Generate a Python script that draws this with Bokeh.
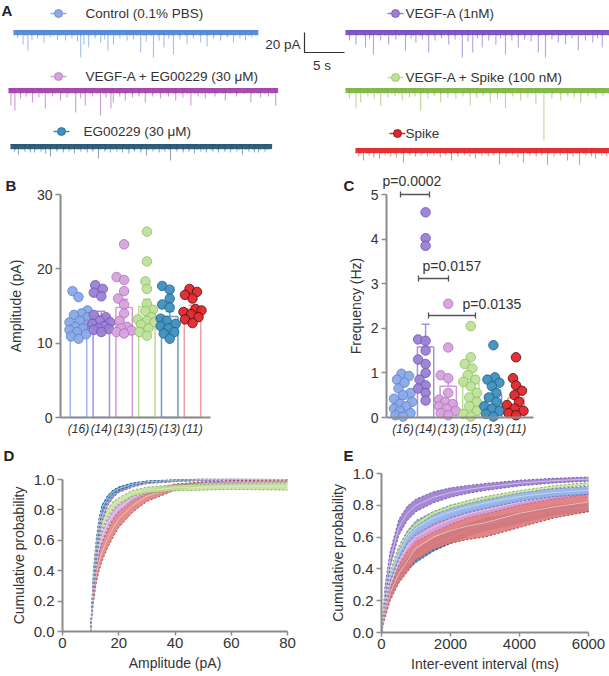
import numpy as np
from bokeh.plotting import figure
from bokeh.layouts import column, row
from bokeh.models import Range1d, FixedTicker, NumeralTickFormatter
from bokeh.core.properties import value
from bokeh.embed import file_html
from bokeh.resources import INLINE

FONT = "Liberation Sans"
TXT = "#333333"
AXC = "#8c8c8c"

# ---------------- data ----------------
GROUPS = ["Control (0.1% PBS)", "VEGF-A (1nM)", "VEGF-A + EG00229 (30 μM)",
          "VEGF-A + Spike (100 nM)", "EG00229 (30 μM)", "Spike"]
N_LABELS = ["(16)", "(14)", "(13)", "(15)", "(13)", "(11)"]

# Panel A traces: recording length (s) and events (time s, amplitude pA)
TRACE_DUR = [30.6, 33.0, 33.7, 33.0, 32.7, 31.8]
EV_CONTROL = [(0.5, 6), (1.2, 12), (1.8, 18), (2.3, 8), (3.0, 6), (3.8, 10), (4.6, 5), (5.5, 7),
              (6.5, 8), (7.3, 6), (8.0, 9), (8.4, 25), (8.8, 12), (9.4, 15), (10.2, 6), (10.9, 10),
              (11.4, 7), (11.8, 18), (12.5, 12), (13.3, 6), (14.2, 8), (15.0, 7), (15.9, 20),
              (16.6, 9), (17.5, 25), (18.2, 8), (18.8, 15), (19.4, 6), (20.0, 22), (20.8, 7),
              (21.7, 12), (22.5, 6), (23.4, 10), (24.2, 14), (25.0, 6), (25.9, 8), (26.7, 5),
              (27.5, 10), (28.3, 6), (29.0, 8), (29.8, 5)]
EV_VEGF = [(0.5, 8), (1.3, 12), (2.5, 15), (3.0, 6), (3.5, 22), (4.4, 8), (5.4, 12), (6.3, 7),
           (7.5, 18), (8.2, 6), (8.8, 10), (9.6, 7), (10.4, 20), (11.2, 8), (12.0, 6), (12.9, 12),
           (13.7, 7), (14.6, 25), (15.3, 9), (15.9, 20), (16.5, 6), (17.1, 15), (17.9, 8),
           (18.8, 12), (19.4, 6), (20.0, 22), (20.8, 8), (21.6, 15), (22.4, 7), (23.2, 9),
           (24.1, 20), (25.0, 25), (25.8, 7), (26.6, 10), (27.5, 12), (28.3, 6), (29.1, 18),
           (30.0, 8), (30.9, 10), (31.5, 6), (32.1, 15)]
EV_VEGF_EG = [(0.3, 15), (0.8, 20), (1.5, 8), (2.2, 6), (3.0, 12), (3.8, 7), (4.6, 18), (5.5, 6),
              (6.5, 10), (7.3, 7), (8.4, 22), (9.0, 8), (9.6, 15), (10.5, 6), (11.5, 25), (12.2, 7),
              (12.8, 18), (13.1, 12), (13.9, 6), (14.6, 10), (15.5, 7), (16.3, 6), (17.1, 12),
              (18.0, 6), (19.0, 8), (20.0, 6), (20.9, 10), (21.8, 7), (22.8, 15), (23.7, 6),
              (24.6, 8), (25.8, 6), (27.1, 10), (28.5, 6), (30.3, 12), (31.5, 7), (32.5, 6),
              (33.4, 15)]
EV_VEGF_SPIKE = [(0.5, 8), (1.3, 18), (1.9, 12), (2.8, 6), (3.6, 8), (4.4, 15), (5.3, 7), (6.2, 6),
                 (7.1, 10), (8.0, 7), (8.7, 6), (9.4, 20), (10.3, 8), (11.1, 6), (11.9, 12),
                 (12.8, 7), (13.8, 8), (14.7, 6), (15.6, 15), (16.4, 7), (17.2, 6), (18.1, 12),
                 (19.0, 8), (20.0, 18), (20.9, 6), (21.9, 10), (22.8, 7), (23.8, 14), (24.8, 50),
                 (25.8, 8), (26.9, 10), (27.8, 6), (28.6, 7), (29.4, 12), (30.3, 6), (31.3, 8),
                 (32.2, 6)]
EV_EG = [(0.5, 5), (1.0, 8), (1.8, 5), (2.5, 6), (3.0, 6), (3.8, 5), (4.4, 7), (5.0, 10), (5.8, 5),
         (6.6, 6), (7.3, 5), (8.0, 7), (8.8, 5), (9.6, 6), (10.3, 5), (11.0, 12), (11.8, 5),
         (12.5, 6), (13.3, 5), (14.0, 6), (14.8, 7), (15.5, 5), (16.3, 6), (17.0, 9), (17.8, 5),
         (18.6, 6), (19.3, 5), (20.0, 14), (20.8, 5), (21.6, 6), (22.3, 5), (23.0, 7), (23.8, 5),
         (24.5, 6), (25.3, 5), (26.0, 6), (26.8, 5), (27.5, 6), (28.3, 5), (29.0, 8), (29.8, 5),
         (30.5, 6), (31.0, 6), (31.8, 5)]
EV_SPIKE = [(0.4, 6), (1.0, 10), (1.7, 5), (2.3, 7), (3.0, 8), (3.7, 5), (4.4, 6), (5.1, 7),
            (6.0, 12), (6.8, 5), (7.5, 6), (8.2, 5), (9.0, 6), (9.8, 5), (10.6, 7), (11.3, 5),
            (12.0, 10), (12.8, 6), (13.6, 5), (14.3, 6), (15.0, 8), (15.8, 5), (16.6, 6), (17.3, 5),
            (18.0, 14), (18.8, 6), (19.6, 5), (20.3, 7), (21.0, 12), (21.8, 5), (22.6, 6), (23.3, 5),
            (24.0, 15), (24.8, 6), (25.6, 5), (26.5, 10), (27.2, 6), (28.0, 18), (28.8, 5),
            (29.5, 6), (30.0, 8), (30.8, 5), (31.4, 6)]
EVENTS = [EV_CONTROL, EV_VEGF, EV_VEGF_EG, EV_VEGF_SPIKE, EV_EG, EV_SPIKE]
SCALE_PA = 20
SCALE_S = 5

# Panel B: amplitude (pA)
AMP = [
    [17.0, 16.2, 14.4, 14.0, 13.8, 13.5, 13.0, 12.8, 12.5, 12.2, 12.0, 11.8, 11.5, 11.2, 10.9, 10.6],
    [17.8, 17.3, 16.8, 16.3, 13.8, 13.5, 13.0, 12.8, 12.6, 12.3, 12.0, 11.9, 11.8, 11.5],
    [23.3, 18.9, 18.5, 17.0, 16.0, 15.2, 14.0, 13.0, 12.2, 12.0, 11.7, 11.5, 11.3],
    [25.0, 21.0, 18.3, 17.3, 15.3, 14.5, 14.3, 13.5, 13.2, 13.0, 12.8, 12.5, 12.0, 11.5, 11.0],
    [17.7, 17.2, 16.0, 15.2, 14.8, 13.3, 13.0, 12.6, 12.3, 12.0, 11.5, 11.3, 10.6],
    [17.3, 16.9, 16.5, 16.0, 14.6, 14.4, 14.2, 13.9, 13.5, 13.2, 12.7],
]
AMP_MEAN = [12.9, 13.7, 14.8, 14.9, 13.6, 14.6]
AMP_SEM = [0.45, 0.6, 1.1, 1.0, 0.65, 0.5]

# Panel C: frequency (Hz)
FREQ = [
    [0.98, 0.93, 0.85, 0.78, 0.65, 0.55, 0.5, 0.42, 0.35, 0.3, 0.25, 0.2, 0.15, 0.1, 0.05, 0.02],
    [4.6, 4.02, 3.85, 1.75, 1.72, 1.5, 1.3, 1.2, 1.0, 0.85, 0.72, 0.65, 0.55, 0.38],
    [2.55, 1.57, 0.95, 0.88, 0.55, 0.4, 0.35, 0.3, 0.25, 0.2, 0.15, 0.1, 0.05],
    [2.05, 1.35, 1.2, 1.1, 0.95, 0.85, 0.8, 0.7, 0.55, 0.45, 0.35, 0.25, 0.15, 0.08, 0.02],
    [1.62, 0.9, 0.85, 0.78, 0.7, 0.55, 0.45, 0.35, 0.25, 0.2, 0.15, 0.08, 0.02],
    [1.35, 0.88, 0.72, 0.6, 0.5, 0.35, 0.28, 0.2, 0.15, 0.1, 0.05],
]
FREQ_MEAN = [0.42, 1.58, 0.70, 0.76, 0.51, 0.44]
FREQ_SEM = [0.08, 0.51, 0.2, 0.15, 0.13, 0.12]
P_TEXT = ["p=0.0002", "p=0.0157", "p=0.0135"]

# Panel D: cumulative amplitude
D_X = [0, 10, 11, 12, 13, 14, 16, 18, 20, 25, 30, 40, 50, 60, 80]
D_MEAN = [
    [0, 0, 0.35, 0.55, 0.70, 0.80, 0.87, 0.91, 0.94, 0.97, 0.985, 0.995, 1.0, 1.0, 1.0],
    [0, 0, 0.30, 0.50, 0.65, 0.75, 0.85, 0.90, 0.93, 0.96, 0.98, 0.99, 0.995, 1.0, 1.0],
    [0, 0, 0.28, 0.44, 0.55, 0.62, 0.71, 0.77, 0.81, 0.88, 0.92, 0.95, 0.97, 0.975, 0.98],
    [0, 0, 0.32, 0.50, 0.62, 0.70, 0.78, 0.83, 0.86, 0.91, 0.93, 0.945, 0.95, 0.955, 0.955],
    [0, 0, 0.38, 0.58, 0.72, 0.81, 0.88, 0.92, 0.94, 0.97, 0.985, 0.995, 1.0, 1.0, 1.0],
    [0, 0, 0.24, 0.38, 0.46, 0.52, 0.61, 0.68, 0.74, 0.83, 0.89, 0.95, 0.975, 0.985, 0.99],
]
D_SEM = [
    [0, 0, 0.03, 0.03, 0.03, 0.025, 0.02, 0.015, 0.012, 0.008, 0.005, 0.003, 0.002, 0.001, 0],
    [0, 0, 0.04, 0.04, 0.035, 0.03, 0.025, 0.02, 0.015, 0.01, 0.007, 0.005, 0.003, 0.002, 0],
    [0, 0, 0.03, 0.035, 0.035, 0.035, 0.03, 0.03, 0.025, 0.02, 0.015, 0.01, 0.01, 0.01, 0.01],
    [0, 0, 0.03, 0.03, 0.03, 0.03, 0.025, 0.025, 0.02, 0.02, 0.02, 0.02, 0.02, 0.02, 0.025],
    [0, 0, 0.03, 0.03, 0.025, 0.02, 0.015, 0.012, 0.01, 0.007, 0.005, 0.003, 0.002, 0.001, 0],
    [0, 0, 0.05, 0.06, 0.06, 0.06, 0.06, 0.06, 0.055, 0.045, 0.035, 0.02, 0.01, 0.008, 0.005],
]

# Panel E: cumulative inter-event interval
E_X = [0, 100, 250, 500, 750, 1000, 1500, 2000, 2500, 3000, 4000, 5000, 6000]
E_MEAN = [
    [0, 0.18, 0.35, 0.50, 0.60, 0.66, 0.72, 0.76, 0.79, 0.815, 0.855, 0.88, 0.895],
    [0, 0.25, 0.46, 0.66, 0.75, 0.80, 0.85, 0.88, 0.90, 0.915, 0.94, 0.955, 0.965],
    [0, 0.15, 0.30, 0.45, 0.54, 0.60, 0.66, 0.71, 0.745, 0.77, 0.82, 0.86, 0.89],
    [0, 0.20, 0.37, 0.53, 0.62, 0.68, 0.75, 0.79, 0.82, 0.845, 0.885, 0.915, 0.935],
    [0, 0.14, 0.26, 0.36, 0.43, 0.48, 0.55, 0.60, 0.645, 0.68, 0.72, 0.77, 0.79],
    [0, 0.12, 0.25, 0.37, 0.45, 0.53, 0.60, 0.64, 0.67, 0.69, 0.75, 0.79, 0.82],
]
E_SEM = [
    [0, 0.02, 0.03, 0.04, 0.04, 0.045, 0.04, 0.04, 0.035, 0.035, 0.03, 0.025, 0.025],
    [0, 0.04, 0.05, 0.05, 0.045, 0.04, 0.035, 0.03, 0.025, 0.022, 0.018, 0.015, 0.013],
    [0, 0.02, 0.025, 0.03, 0.03, 0.03, 0.03, 0.03, 0.025, 0.025, 0.02, 0.02, 0.02],
    [0, 0.01, 0.01, 0.01, 0.01, 0.01, 0.01, 0.01, 0.01, 0.01, 0.008, 0.008, 0.008],
    [0, 0.02, 0.03, 0.035, 0.04, 0.04, 0.04, 0.04, 0.04, 0.04, 0.035, 0.03, 0.03],
    [0, 0.03, 0.05, 0.06, 0.07, 0.075, 0.08, 0.08, 0.085, 0.09, 0.09, 0.07, 0.06],
]

# ---------------- styles ----------------
FILL = ["#8aa9e6", "#9b7fd4", "#d7a2dd", "#bfe09a", "#3f8fbf", "#e3262a"]
EDGE = ["#5b7fcf", "#6f52b3", "#b070b8", "#8cbf5a", "#1f5f88", "#4a1010"]
BARC = ["#9db5ea", "#a890d8", "#d39ad8", "#b9dc90", "#6a9cc4", "#f0a0a0"]
TRACE = ["#4a82d6", "#7048c0", "#a03aa8", "#7bb23c", "#1f4f70", "#e02024"]
BAND = ["#8fb1ea", "#9a7bd2", "#d59fdc", "#bde08e", "#3b8fc0", "#e07878"]
BAND_EDGE = ["#3f5fa8", "#5a3c9a", "#9a5aa2", "#6a9a3a", "#1d4f72", "#8a2a2a"]


def clean(p):
    p.xgrid.visible = False
    p.ygrid.visible = False
    p.outline_line_color = None
    p.background_fill_color = "white"
    p.border_fill_color = "white"


def style_axes(p, tick_size="14px"):
    for a in p.axis:
        a.axis_line_color = AXC
        a.axis_line_width = 2
        a.major_tick_line_color = AXC
        a.major_tick_line_width = 1.5
        a.major_tick_out = 5
        a.major_tick_in = 0
        a.minor_tick_line_color = None
        a.major_label_text_font = FONT
        a.major_label_text_font_size = tick_size
        a.major_label_text_color = TXT
        a.axis_label_text_font = FONT
        a.axis_label_text_font_size = "14px"
        a.axis_label_text_font_style = "normal"
        a.axis_label_text_color = TXT
        a.major_label_standoff = 3
        a.axis_label_standoff = 4


def put_text(p, x, y, t, size="14px", bold=False, align="left", baseline="middle"):
    p.text(x=[x], y=[y], text=[t], text_font=value(FONT), text_font_size=size,
           text_font_style="bold" if bold else "normal", text_align=align,
           text_baseline=baseline, text_color="#222222" if bold else TXT)


def swarm(vals, ypx, xpx, diam=7.5, step=1.5, maxoff=9.0):
    vals = np.asarray(vals, float)
    offs = np.zeros(len(vals))
    placed = []
    cand = sorted(np.arange(-maxoff, maxoff + 0.01, step), key=lambda c: (abs(c), c))
    for i in np.argsort(vals):
        y = vals[i] * ypx
        best, bestd = 0.0, -1.0
        for c in cand:
            d = min([np.hypot(c - px, y - py) for px, py in placed], default=1e9)
            if d >= diam:
                best = c
                break
            if d > bestd:
                bestd, best = d, c
        offs[i] = best / xpx
        placed.append((best, y))
    return offs


class Frame:
    """Page-pixel box of a figure and its linear data mapping (layout only)."""
    def __init__(self, left, top, right, bottom, ax_pix, ax_val, xppu, ay_pix, ay_val, yppu):
        self.ax_pix, self.ax_val, self.xppu = ax_pix, ax_val, xppu
        self.ay_pix, self.ay_val, self.yppu = ay_pix, ay_val, yppu
        self.w, self.h = right - left, bottom - top
        self.x0, self.x1 = self.x(left), self.x(right)
        self.y0, self.y1 = self.y(bottom), self.y(top)

    def x(self, px):
        return self.ax_val + (px - self.ax_pix) / self.xppu

    def y(self, py):
        return self.ay_val + (self.ay_pix - py) / self.yppu


def make_fig(F):
    p = figure(width=F.w, height=F.h, x_range=Range1d(F.x0, F.x1), y_range=Range1d(F.y0, F.y1),
               output_backend="svg", toolbar_location=None, min_border=0)
    clean(p)
    return p


# ---------------- Panel A ----------------
SEC_PX = 8.0   # px per second (5 s bar = 40 px)
PA_PX = 1.0    # px per pA
FA = Frame(0, 0, 609, 165, 0, 0, SEC_PX, 0, 0, PA_PX)
pa = figure(width=FA.w, height=FA.h, x_range=Range1d(FA.x0, FA.x1),
            y_range=Range1d(FA.y0, FA.y1), output_backend="svg",
            toolbar_location=None, min_border=0,
            x_axis_location=None, y_axis_location=None)
clean(pa)

TRACE_POS = [(13, 32), (345, 32), (8, 90), (345, 90), (10, 146), (355, 150)]
LEG_POS = [(58, 13, 85), (395, 13, 405), (58, 76, 85), (395, 77, 405), (61, 131, 83), (397, 133, 405)]

for i in range(6):
    sx, sy = TRACE_POS[i]
    t0, y0 = FA.x(sx), FA.y(sy)
    ev = np.array(EVENTS[i], float)
    xs = t0 + ev[:, 0]
    amps = ev[:, 1]
    pa.segment(x0=xs, y0=[y0 + 2] * len(xs), x1=xs, y1=y0 - amps,
               line_color=TRACE[i], line_alpha=0.5, line_width=1.1)
    pa.line([t0, t0 + TRACE_DUR[i]], [y0, y0], line_color=TRACE[i], line_width=5, line_alpha=0.9)
    pa.line([t0, t0 + TRACE_DUR[i]], [y0 + 1.5, y0 + 1.5], line_color=TRACE[i],
            line_width=1.2, line_alpha=0.7, line_dash="2 1 4 2")
    pa.line([t0, t0 + TRACE_DUR[i]], [y0 - 2.5, y0 - 2.5], line_color=TRACE[i],
            line_width=1.2, line_alpha=0.6, line_dash="1 2 3 1")
    mx, my, tx = LEG_POS[i]
    pa.line([FA.x(mx - 8), FA.x(mx + 8)], [FA.y(my)] * 2, line_color=FILL[i], line_width=1.5)
    pa.scatter([FA.x(mx)], [FA.y(my)], size=8, fill_color=FILL[i], line_color=EDGE[i],
               line_alpha=0.7, line_width=1)
    put_text(pa, FA.x(tx), FA.y(my), GROUPS[i], size="13.5px")

# scale bar
bx, by = FA.x(304), FA.y(32)
pa.line([bx, bx, bx + SCALE_S], [by, by - SCALE_PA, by - SCALE_PA], line_color="#333333",
        line_width=1.2)
put_text(pa, FA.x(300), by - SCALE_PA / 2 - 2, f"{SCALE_PA} pA", size="13.5px", align="right")
put_text(pa, bx + SCALE_S / 2 - 0.3, by - SCALE_PA - 13, f"{SCALE_S} s", size="13.5px",
         align="center")
put_text(pa, FA.x(1), FA.y(1), "A", size="15px", bold=True, baseline="top")

POS = [1, 2, 3, 4, 5, 6]
ROW2_BOTTOM = 443


def bar_panel(F, means, sems, points, ylabel, yticks, ybound, axis_px, axis_end_px, label_standoff):
    p = make_fig(F)
    p.vbar(x=POS, top=means, width=0.72, fill_color="white", line_color=BARC, line_width=1.5)
    for i in range(6):
        top = means[i] + sems[i]
        p.segment(x0=[POS[i], POS[i] - 0.18], y0=[means[i], top], x1=[POS[i], POS[i] + 0.18],
                  y1=[top, top], line_color=BARC[i], line_width=1.5)
    for i in range(6):
        offs = swarm(points[i], F.yppu, F.xppu)
        p.scatter(POS[i] + offs, points[i], size=9.5, fill_color=FILL[i], line_color=EDGE[i],
                  fill_alpha=0.95, line_alpha=0.8, line_width=1)
    style_axes(p)
    ax_x = F.x(axis_px)
    p.yaxis.fixed_location = ax_x
    p.yaxis.bounds = (0, ybound)
    p.yaxis.ticker = FixedTicker(ticks=yticks)
    p.yaxis.axis_label = ylabel
    p.yaxis.axis_label_standoff = label_standoff
    p.xaxis.fixed_location = 0
    p.xaxis.bounds = (ax_x, F.x(axis_end_px))
    p.xaxis.ticker = FixedTicker(ticks=POS)
    p.xaxis.major_label_overrides = {q: s for q, s in zip(POS, N_LABELS)}
    p.xaxis.major_label_text_font_style = "italic"
    p.xaxis.major_label_text_font_size = "12px"
    p.xaxis.major_tick_line_color = None
    p.xaxis.major_tick_out = 0
    p.xaxis.major_label_standoff = 4
    return p


# ---------------- Panel B ----------------
FB = Frame(0, 165, 305, ROW2_BOTTOM, 78, 1, 22.8, 417, 0, 7.433)
pb = bar_panel(FB, AMP_MEAN, AMP_SEM, AMP, "Amplitude (pA)", [0, 10, 20, 30], 30, 60, 210, 10)
put_text(pb, FB.x(5), FB.y(176), "B", size="15px", bold=True, baseline="top")

# ---------------- Panel C ----------------
FC = Frame(305, 165, 609, ROW2_BOTTOM, 402.5, 1, 22.6, 417, 0, 44.6)
pc = bar_panel(FC, FREQ_MEAN, FREQ_SEM, FREQ, "Frequency (Hz)", [0, 1, 2, 3, 4, 5], 5,
               386, 533, 4)
# significance brackets: page-pixel layout (x left, x right, y) and text anchor
BRK_PX = [(400, 429, 194, 382, 180), (418, 448, 278, 422, 265), (428, 475, 315, 462, 303)]
for (px1, px2, pyb, ptx, pty), ptxt in zip(BRK_PX, P_TEXT):
    x1, x2, yb = FC.x(px1), FC.x(px2), FC.y(pyb)
    h = 3 / FC.yppu
    pc.segment(x0=[x1, x1, x2], y0=[yb, yb - h, yb - h], x1=[x2, x1, x2],
               y1=[yb, yb + h, yb + h], line_color="#555555", line_width=1.3)
    put_text(pc, FC.x(ptx), FC.y(pty), ptxt, size="14px")
put_text(pc, FC.x(343), FC.y(176), "C", size="15px", bold=True, baseline="top")


def cdf_panel(F, xs, means, sems, order, alpha, xticks, xmax, xlabel):
    p = make_fig(F)
    for i in order:
        m = np.array(means[i]); s = np.array(sems[i])
        p.varea(x=xs, y1=m - s, y2=m + s, fill_color=BAND[i], fill_alpha=alpha)
        p.line(xs, m + s, line_color=BAND_EDGE[i], line_width=1, line_dash="2 2", line_alpha=0.75)
        p.line(xs, m - s, line_color=BAND_EDGE[i], line_width=1, line_dash="2 2", line_alpha=0.75)
        p.line(xs, m, line_color="#e8e8e8", line_width=1, line_alpha=0.6)
    style_axes(p, "15px")
    p.yaxis.fixed_location = 0
    p.xaxis.fixed_location = 0
    p.yaxis.bounds = (0, 1)
    p.xaxis.bounds = (0, xmax)
    p.xaxis.ticker = FixedTicker(ticks=xticks)
    p.yaxis.ticker = FixedTicker(ticks=[0, 0.2, 0.4, 0.6, 0.8, 1.0])
    p.yaxis.formatter = NumeralTickFormatter(format="0.0")
    p.xaxis.axis_label = xlabel
    p.yaxis.axis_label = "Cumulative probability"
    p.xaxis.major_label_standoff = 2
    p.xaxis.major_tick_out = 4
    return p


# ---------------- Panel D ----------------
FD = Frame(0, ROW2_BOTTOM, 305, 676, 62, 0, 225 / 80.0, 631, 0, 152)
pdd = cdf_panel(FD, D_X, D_MEAN, D_SEM, [5, 2, 3, 1, 0, 4], 0.85, [0, 20, 40, 60, 80], 80,
                "Amplitude (pA)")
pdd.line([0, 10], [0, 0], line_color="#f0a0a0", line_width=1.2)
put_text(pdd, FD.x(3), FD.y(446), "D", size="15px", bold=True, baseline="top")

# ---------------- Panel E ----------------
FE = Frame(305, ROW2_BOTTOM, 609, 676, 381, 0, 207 / 6000.0, 632, 0, 159)
pe = cdf_panel(FE, E_X, E_MEAN, E_SEM, [4, 5, 2, 0, 3, 1], 0.9, [0, 2000, 4000, 6000], 6000,
               "Inter-event interval (ms)")
put_text(pe, FE.x(343), FE.y(446), "E", size="15px", bold=True, baseline="top")

layout = column(pa, row(pb, pc), row(pdd, pe))
open("out.html", "w").write(file_html(layout, INLINE))
